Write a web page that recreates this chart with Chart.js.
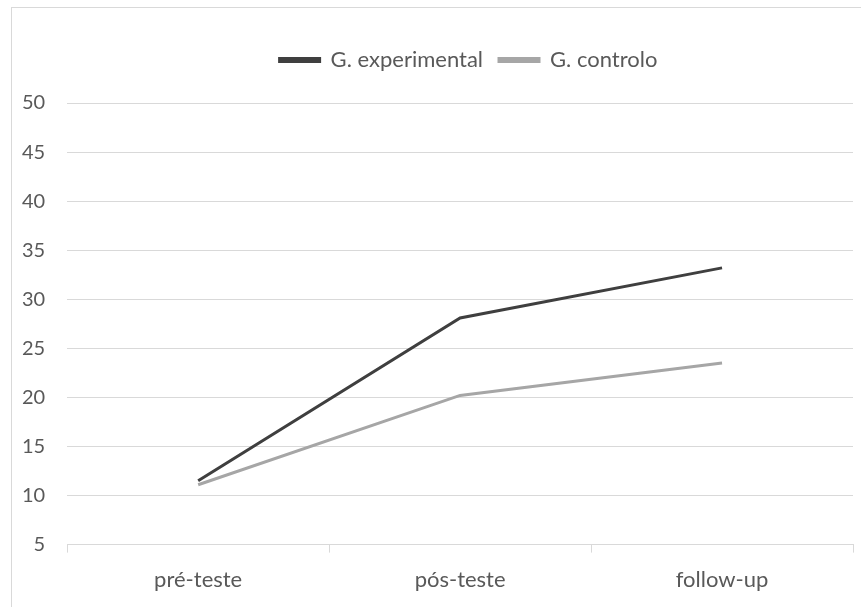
<!DOCTYPE html>
<html>
<head>
<meta charset="utf-8">
<script src="https://cdn.jsdelivr.net/npm/chart.js@4"></script>
<style>
  html, body { margin: 0; padding: 0; background: #fff; }
  #frame { position: absolute; left: 11px; top: 7px; width: 860px; height: 610px; border: 1px solid #d9d9d9; box-sizing: border-box; }
  #c { position: absolute; left: 0; top: 0; }
</style>
</head>
<body>
<div id="frame"></div>
<canvas id="c" width="861" height="607"></canvas>
<script>
// categories and series
const categories = ["pré-teste", "pós-teste", "follow-up"];
const experimental = [11.5, 28.1, 33.2];
const controlo = [11.1, 20.2, 23.5];
const yTicks = [5, 10, 15, 20, 25, 30, 35, 40, 45, 50];

const font = "Lato, 'Open Sans', sans-serif";

// push the plot down below the legend, and nudge the legend right a bit
const legendTweak = {
  id: "legendTweak",
  beforeInit(chart) {
    const fit = chart.legend.fit;
    chart.legend.fit = function () {
      fit.bind(chart.legend)();
      this.height += 22;
    };
  },
  afterLayout(chart) {
    chart.legend.left += 42;
    chart.legend.right += 42;
  }
};

const chart = new Chart(document.getElementById("c"), {
  type: "line",
  data: {
    labels: categories,
    datasets: [
      {
        label: "G. experimental",
        data: experimental,
        borderColor: "#3f3f3f",
        backgroundColor: "#3f3f3f",
        borderWidth: 3,
        pointRadius: 0,
        tension: 0
      },
      {
        label: "G. controlo",
        data: controlo,
        borderColor: "#a6a6a6",
        backgroundColor: "#a6a6a6",
        borderWidth: 3,
        pointRadius: 0,
        tension: 0
      }
    ]
  },
  options: {
    responsive: false,
    animation: false,
    layout: { padding: { left: 0, right: 8, top: 33, bottom: 0 } },
    plugins: {
      tooltip: { enabled: false },
      legend: {
        position: "top",
        labels: {
          boxWidth: 40,
          boxHeight: 3,
          color: "#595959",
          font: { family: font, size: 22 },
          padding: 16
        }
      }
    },
    scales: {
      x: {
        offset: true,
        grid: { offset: true, drawOnChartArea: false, drawTicks: true, tickLength: 8, color: "#d9d9d9" },
        border: { display: true, color: "#d9d9d9" },
        ticks: { color: "#595959", font: { family: font, size: 22 }, padding: 14 }
      },
      y: {
        min: 5,
        max: 50,
        afterBuildTicks: (axis) => { axis.ticks = yTicks.map(v => ({ value: v })); },
        grid: { color: "#d9d9d9", drawTicks: false },
        border: { display: false },
        ticks: { color: "#595959", font: { family: font, size: 20 }, padding: 22 }
      }
    }
  },
  plugins: [legendTweak]
});
</script>
</body>
</html>
